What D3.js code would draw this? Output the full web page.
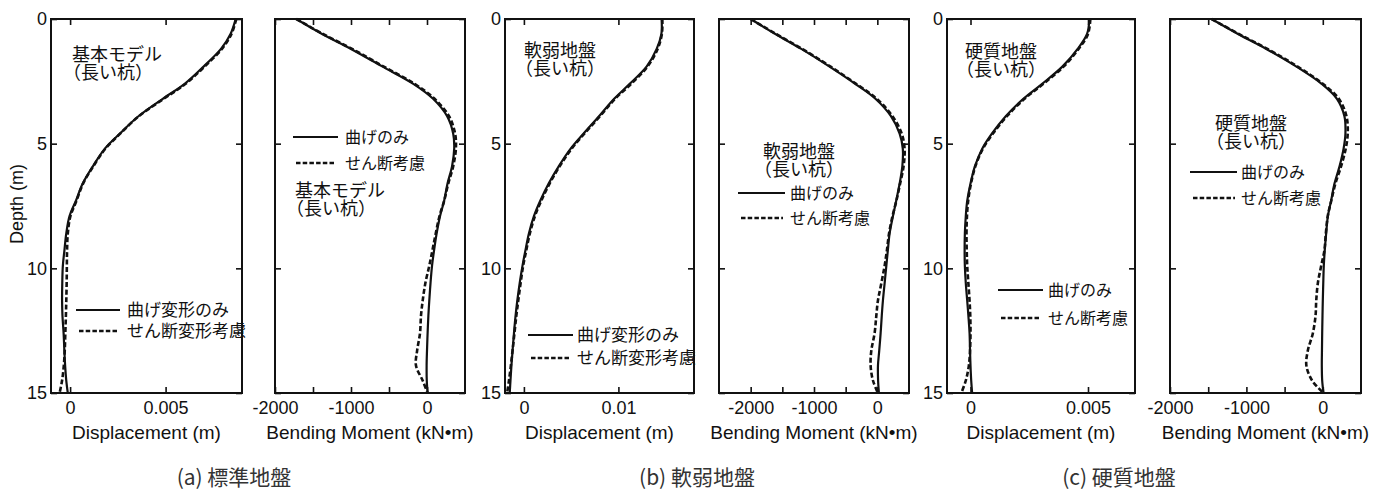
<!DOCTYPE html>
<html>
<head>
<meta charset="utf-8">
<script src="https://cdnjs.cloudflare.com/ajax/libs/d3/7.8.5/d3.min.js"></script>
<style>
    body { margin: 0; background: #fff; }
    svg { display: block; }
</style>
</head>
<body>
<svg id="chart" width="1379" height="496"></svg>
<script>
// depth grid (m) shared by every curve
var depth = [0, 0.6, 1.2, 1.9, 2.6, 3.2, 3.9, 4.6, 5.2, 5.9, 6.6, 7.3, 7.9, 8.6, 9.3, 9.9, 10.6, 11.3, 11.9, 12.6, 13.3, 13.9, 14.5, 15];

// (a) 標準地盤
var dispA_bend = [0.00867, 0.0084, 0.0079, 0.0070, 0.0060, 0.00485, 0.00358, 0.0026, 0.00182, 0.0012, 0.00066, 0.0003, -0.00003, -0.0002, -0.0003, -0.00038, -0.00041, -0.00042, -0.0004, -0.00034, -0.0003, -0.00026, -0.0002, -0.00012];
var dispA_shear = [0.0087, 0.00845, 0.00795, 0.00705, 0.00605, 0.0049, 0.0036, 0.00262, 0.00185, 0.00122, 0.00068, 0.00033, 0.00002, -0.00012, -0.00016, -0.00017, -0.00018, -0.0002, -0.00022, -0.00025, -0.00028, -0.00033, -0.00042, -0.00055];
var momA_bend = [-1720, -1380, -1000, -590, -180, 80, 265, 345, 358, 330, 270, 225, 172, 127, 92, 66, 46, 30, 18, 8, 0, -5, -3, 8];
var momA_shear = [-1720, -1370, -985, -575, -165, 100, 290, 370, 380, 345, 280, 225, 165, 115, 70, 30, -22, -57, -79, -92, -130, -145, -57, 8];

// (b) 軟弱地盤
var dispB_bend = [0.01457, 0.01455, 0.01405, 0.0130, 0.0112, 0.00955, 0.00795, 0.0063, 0.00495, 0.0037, 0.00262, 0.00172, 0.00107, 0.00053, 0.00015, -0.00015, -0.00045, -0.0007, -0.00088, -0.00105, -0.0012, -0.00132, -0.00142, -0.0015];
var dispB_shear = [0.01465, 0.0146, 0.01415, 0.0131, 0.01135, 0.00965, 0.00805, 0.0064, 0.00505, 0.0038, 0.00272, 0.00182, 0.00117, 0.00063, 0.00024, -0.00008, -0.00035, -0.0006, -0.0008, -0.001, -0.0012, -0.00138, -0.00158, -0.00178];
var momB_bend = [-2000, -1610, -1200, -760, -350, -30, 215, 352, 402, 395, 352, 297, 247, 194, 165, 142, 115, 88, 70, 52, 30, 10, 12, 25];
var momB_shear = [-2000, -1600, -1185, -745, -335, -10, 240, 385, 430, 415, 360, 300, 240, 185, 150, 115, 63, 9, -16, -43, -95, -106, -69, 9];

// (c) 硬質地盤
var dispC_bend = [0.00506, 0.00496, 0.00456, 0.00392, 0.00305, 0.00225, 0.0015, 0.00091, 0.0005, 0.00019, 0, -0.00014, -0.0002, -0.00024, -0.00025, -0.00024, -0.0002, -0.00014, -0.00009, -0.00004, -0.00002, 0, 0.00003, 0.00007];
var dispC_shear = [0.0051, 0.005, 0.0046, 0.00397, 0.0031, 0.0023, 0.00155, 0.00095, 0.00053, 0.00021, 0.00002, -0.0001, -0.00015, -0.00017, -0.00016, -0.00014, -0.00009, -0.00004, -0.00001, 0, -0.00002, -0.00007, -0.0002, -0.00039];
var momC_bend = [-1456, -1110, -740, -350, -15, 185, 283, 296, 272, 220, 153, 108, 67, 44, 25, 13, 6, 0, -4, -8, -11, -13, -8, 9];
var momC_shear = [-1456, -1100, -725, -335, 0, 210, 310, 326, 300, 240, 165, 110, 65, 40, 20, -21, -65, -86, -95, -130, -196, -215, -140, 9];

// axes
var depthTicks = [0, 5, 10, 15];
var dispDomA = [-0.001, 0.009], dispTicksA = [0, 0.005];
var dispDomB = [-0.002, 0.018], dispTicksB = [0, 0.01];
var dispDomC = [-0.001, 0.007], dispTicksC = [0, 0.005];
var momDomA = [-2000, 500], momDomB = [-2500, 500], momDomC = [-2000, 500];
var momTicks = [-2000, -1500, -1000, -500, 0];
var momLabels = [-2000, -1000, 0];

var legendDisp = ['曲げ変形のみ', 'せん断変形考慮'];
var legendMom = ['曲げのみ', 'せん断考慮'];
var legendC = ['曲げのみ', 'せん断考慮'];
var captions = ['(a) 標準地盤', '(b) 軟弱地盤', '(c) 硬質地盤'];
var captionX = [234, 697, 1119];

var yTop = 19, yBottom = 393;
var tickFont = '"Liberation Sans", Arial, sans-serif';
var cjkFont = '"Noto Sans CJK JP", sans-serif';

var panels = [
    { left: 51, right: 242, dom: dispDomA, ticks: dispTicksA, labels: dispTicksA, solid: dispA_bend, dashed: dispA_shear, yLabels: true, title: 'Displacement (m)',
      note: { x: 72, y: 55, lines: ['基本モデル', '（長い杭）'] }, legend: { x1: 76, x2: 120, tx: 127, y1: 310, y2: 331, size: 17, text: legendDisp } },
    { left: 275, right: 465, dom: momDomA, ticks: momTicks, labels: momLabels, solid: momA_bend, dashed: momA_shear, yLabels: false, title: 'Bending Moment (kN•m)',
      note: { x: 295, y: 191, lines: ['基本モデル', '（長い杭）'] }, legend: { x1: 293, x2: 338, tx: 345, y1: 137, y2: 163, size: 16, text: legendMom } },
    { left: 505, right: 694, dom: dispDomB, ticks: dispTicksB, labels: dispTicksB, solid: dispB_bend, dashed: dispB_shear, yLabels: true, title: 'Displacement (m)',
      note: { x: 524, y: 51, lines: ['軟弱地盤', '（長い杭）'] }, legend: { x1: 528, x2: 573, tx: 577, y1: 335, y2: 358, size: 17, text: legendDisp } },
    { left: 719, right: 909, dom: momDomB, ticks: momTicks, labels: momLabels, solid: momB_bend, dashed: momB_shear, yLabels: false, title: 'Bending Moment (kN•m)',
      note: { x: 763, y: 152, lines: ['軟弱地盤', '（長い杭）'] }, legend: { x1: 738, x2: 785, tx: 790, y1: 193, y2: 218, size: 16, text: legendMom } },
    { left: 947, right: 1135, dom: dispDomC, ticks: dispTicksC, labels: dispTicksC, solid: dispC_bend, dashed: dispC_shear, yLabels: true, title: 'Displacement (m)',
      note: { x: 965, y: 52, lines: ['硬質地盤', '（長い杭）'] }, legend: { x1: 998, x2: 1043, tx: 1048, y1: 290, y2: 318, size: 16, text: legendC } },
    { left: 1170, right: 1361, dom: momDomC, ticks: momTicks, labels: momLabels, solid: momC_bend, dashed: momC_shear, yLabels: false, title: 'Bending Moment (kN•m)',
      note: { x: 1215, y: 124, lines: ['硬質地盤', '（長い杭）'] }, legend: { x1: 1190, x2: 1237, tx: 1241, y1: 172, y2: 198, size: 16, text: legendC } }
];

var svg = d3.select('#chart');
var y = d3.scaleLinear().domain([0, 15]).range([yTop, yBottom]);

function fmt(v) {
    return v === 0 ? '0' : String(v);
}

panels.forEach(function (p, i) {
    var x = d3.scaleLinear().domain(p.dom).range([p.left, p.right]);
    var g = svg.append('g');

    var clipId = 'clip' + i;
    svg.append('clipPath').attr('id', clipId)
        .append('rect')
        .attr('x', p.left).attr('y', yTop - 2)
        .attr('width', p.right - p.left).attr('height', yBottom - yTop + 4);

    // bottom axis with labels, ticks pointing inward
    var bAxis = d3.axisBottom(x)
        .tickValues(p.ticks)
        .tickSizeInner(-6).tickSizeOuter(0).tickPadding(8)
        .tickFormat(function (d) { return p.labels.indexOf(d) >= 0 ? fmt(d) : ''; });
    g.append('g').attr('transform', 'translate(0,' + yBottom + ')').call(bAxis);

    g.append('g').attr('transform', 'translate(0,' + yTop + ')')
        .call(d3.axisTop(x).tickValues(p.ticks).tickSizeInner(-6).tickSizeOuter(0).tickFormat(''));

    var lAxis = d3.axisLeft(y).tickValues(depthTicks).tickSizeInner(-6).tickSizeOuter(0).tickPadding(4)
        .tickFormat(p.yLabels ? d3.format('d') : '');
    g.append('g').attr('transform', 'translate(' + p.left + ',0)').call(lAxis);
    g.append('g').attr('transform', 'translate(' + p.right + ',0)')
        .call(d3.axisRight(y).tickValues(depthTicks).tickSizeInner(-6).tickSizeOuter(0).tickFormat(''));

    g.selectAll('.domain').remove();
    g.selectAll('.tick line').attr('stroke', '#111').attr('stroke-width', 1.6);
    g.selectAll('.tick text')
        .attr('font-family', tickFont).attr('font-size', 18).attr('fill', '#111');

    // frame
    g.append('rect')
        .attr('x', p.left).attr('y', yTop)
        .attr('width', p.right - p.left).attr('height', yBottom - yTop)
        .attr('fill', 'none').attr('stroke', '#111').attr('stroke-width', 2);

    var line = d3.line()
        .x(function (d) { return x(d[0]); })
        .y(function (d) { return y(d[1]); })
        .curve(d3.curveCatmullRom.alpha(0.5));

    var curves = g.append('g').attr('clip-path', 'url(#' + clipId + ')');
    curves.append('path')
        .datum(d3.zip(p.dashed, depth))
        .attr('d', line)
        .attr('fill', 'none').attr('stroke', '#111').attr('stroke-width', 2.6)
        .attr('stroke-dasharray', '5,2.5');
    curves.append('path')
        .datum(d3.zip(p.solid, depth))
        .attr('d', line)
        .attr('fill', 'none').attr('stroke', '#111').attr('stroke-width', 2.2);

    // x axis title
    g.append('text')
        .attr('x', (p.left + p.right) / 2).attr('y', 439)
        .attr('text-anchor', 'middle')
        .attr('font-family', tickFont).attr('font-size', 19).attr('fill', '#111')
        .text(p.title);

    // note
    p.note.lines.forEach(function (t, k) {
        g.append('text')
            .attr('x', p.note.x).attr('y', p.note.y + k * 18)
            .attr('dx', k === 1 ? '-0.5em' : 0)
            .attr('dy', '0.36em')
            .attr('font-family', cjkFont).attr('font-size', 18).attr('fill', '#111')
            .text(t);
    });

    // legend
    var lg = p.legend;
    g.append('line')
        .attr('x1', lg.x1).attr('x2', lg.x2).attr('y1', lg.y1).attr('y2', lg.y1)
        .attr('stroke', '#111').attr('stroke-width', 2);
    g.append('line')
        .attr('x1', lg.x1 + 3).attr('x2', lg.x2 - 2).attr('y1', lg.y2).attr('y2', lg.y2)
        .attr('stroke', '#111').attr('stroke-width', 2.6).attr('stroke-dasharray', '4.5,2.2');
    [lg.y1, lg.y2].forEach(function (yy, k) {
        g.append('text')
            .attr('x', lg.tx).attr('y', yy).attr('dy', '0.36em')
            .attr('font-family', cjkFont).attr('font-size', lg.size).attr('fill', '#111')
            .text(lg.text[k]);
    });
});

// depth label
svg.append('text')
    .attr('transform', 'translate(23,204) rotate(-90)')
    .attr('text-anchor', 'middle')
    .attr('font-family', tickFont).attr('font-size', 18).attr('fill', '#111')
    .text('Depth (m)');

// captions
svg.selectAll('.caption')
    .data(captions)
    .enter()
    .append('text')
    .attr('class', 'caption')
    .attr('x', function (d, i) { return captionX[i]; })
    .attr('y', 485)
    .attr('text-anchor', 'middle')
    .attr('font-family', cjkFont).attr('font-size', 21).attr('fill', '#333')
    .text(function (d) { return d; });
</script>
</body>
</html>
